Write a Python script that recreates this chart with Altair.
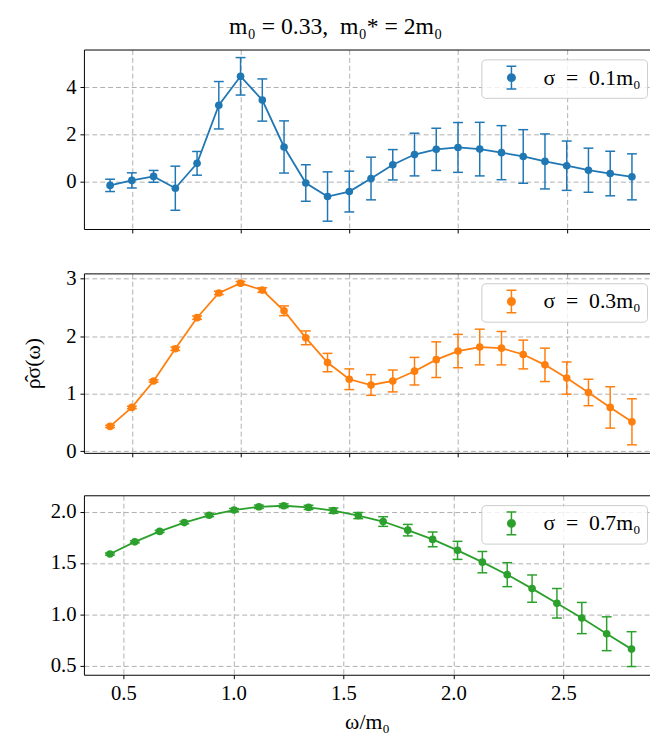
import altair as alt
import pandas as pd

# ---- data ----
x_a = [0.4, 0.5, 0.6, 0.7, 0.8, 0.9, 1.0, 1.1, 1.2, 1.3, 1.4, 1.5, 1.6,
       1.7, 1.8, 1.9, 2.0, 2.1, 2.2, 2.3, 2.4, 2.5, 2.6, 2.7, 2.8]
x_c = [0.439, 0.552, 0.665, 0.777, 0.890, 1.003, 1.116, 1.229, 1.342, 1.455, 1.568,
       1.681, 1.793, 1.906, 2.019, 2.132, 2.245, 2.358, 2.471, 2.584, 2.697, 2.810]

v1 = [-0.14, 0.07, 0.24, -0.26, 0.79, 3.24, 4.46, 3.46, 1.48, -0.04, -0.61, -0.40, 0.15,
      0.73, 1.16, 1.38, 1.46, 1.39, 1.24, 1.08, 0.87, 0.69, 0.50, 0.36, 0.22]
e1 = [0.26, 0.32, 0.25, 0.93, 0.50, 1.00, 0.79, 0.89, 1.10, 0.77, 1.04, 0.86, 0.90,
      0.64, 0.90, 0.89, 1.05, 1.13, 1.14, 1.13, 1.16, 1.04, 0.93, 0.94, 0.97]

v2 = [0.43, 0.76, 1.22, 1.78, 2.32, 2.75, 2.92, 2.80, 2.44, 1.97, 1.54, 1.25, 1.15,
      1.22, 1.39, 1.59, 1.74, 1.81, 1.79, 1.68, 1.50, 1.27, 1.02, 0.76, 0.51]
e2 = [0.02, 0.02, 0.02, 0.03, 0.03, 0.03, 0.03, 0.04, 0.085, 0.12, 0.16, 0.18, 0.18,
      0.19, 0.24, 0.31, 0.29, 0.31, 0.29, 0.25, 0.29, 0.28, 0.23, 0.36, 0.40]

v3 = [1.587, 1.706, 1.808, 1.894, 1.965, 2.016, 2.048, 2.058, 2.042, 2.010, 1.962,
      1.904, 1.820, 1.730, 1.623, 1.508, 1.386, 1.250, 1.107, 0.963, 0.810, 0.660]
e3 = [0.010, 0.010, 0.010, 0.012, 0.013, 0.015, 0.016, 0.018, 0.020, 0.025, 0.030,
      0.047, 0.056, 0.072, 0.088, 0.104, 0.117, 0.133, 0.144, 0.152, 0.165, 0.170]

labels = ["σ\u00a0\u00a0=\u00a0\u00a00.1m₀", "σ\u00a0\u00a0=\u00a0\u00a00.3m₀",
          "σ\u00a0\u00a0=\u00a0\u00a00.7m₀"]
colors = ["#1f77b4", "#ff7f0e", "#2ca02c"]
x_ticks = [0.5, 1.0, 1.5, 2.0, 2.5]

FONT = "Liberation Serif"
W, H = 574, 182

# errorbar-like legend symbol (caps, vertical bar, dot)
SYMBOL = ("M-0.43,-1H0.43M0,-1V1M-0.43,1H0.43"
          "M-0.33,0A0.33,0.33,0,1,0,0.33,0A0.33,0.33,0,1,0,-0.33,0Z")


def panel(x, v, e, color, label, xdom, ydom, yvals, yfmt, bottom, ytitle):
    df = pd.DataFrame({"x": x, "v": v, "e": e, "s": [label] * len(x)})
    base = alt.Chart(df).transform_calculate(
        lo="datum.v - datum.e", hi="datum.v + datum.e"
    )
    xsc = alt.Scale(domain=xdom, nice=False, zero=False)
    if bottom:
        xaxis = alt.Axis(values=x_ticks, format=".1f", title="ω/m₀", titlePadding=8,
                         grid=True)
    else:
        xaxis = alt.Axis(values=x_ticks, format=".1f", labels=False, title=None,
                         grid=True)
    top_axis = alt.Axis(orient="top", labels=False, ticks=False, grid=False,
                        title=None, domain=True)
    X_main = alt.X("x:Q", scale=xsc, axis=xaxis)
    X_top = alt.X("x:Q", scale=xsc, axis=top_axis)
    X_none = alt.X("x:Q", scale=xsc, axis=None)
    if ytitle:
        yaxis = alt.Axis(values=yvals, format=yfmt, title=ytitle, titlePadding=22)
    else:
        yaxis = alt.Axis(values=yvals, format=yfmt, title=None)
    ysc = alt.Scale(domain=ydom, nice=False, zero=False)

    rule = base.mark_rule(color=color, strokeWidth=1.5).encode(
        x=X_main, y=alt.Y("lo:Q", scale=ysc, axis=yaxis), y2="hi:Q")
    cap_lo = base.mark_tick(color=color, orient="horizontal", size=10, thickness=1.5,
                            opacity=1).encode(x=X_none, y=alt.Y("lo:Q", scale=ysc, axis=yaxis))
    cap_hi = base.mark_tick(color=color, orient="horizontal", size=10, thickness=1.5,
                            opacity=1).encode(x=X_none, y=alt.Y("hi:Q", scale=ysc, axis=yaxis))
    line = base.mark_line(color=color, strokeWidth=1.8).encode(
        x=X_none, y=alt.Y("v:Q", scale=ysc, axis=yaxis))
    pts = base.mark_point(filled=True, size=60, opacity=1).encode(
        x=X_top, y=alt.Y("v:Q", scale=ysc, axis=yaxis),
        color=alt.Color("s:N", scale=alt.Scale(domain=[label], range=[color]),
                        legend=alt.Legend(
                            title=None, orient="none", legendX=403, legendY=10,
                            fillColor="rgba(255,255,255,0.8)", strokeColor="#cccccc",
                            cornerRadius=4, padding=6,
                            symbolType=SYMBOL, symbolSize=529, symbolStrokeWidth=1.5,
                            symbolStrokeColor=color, symbolFillColor=color,
                            symbolOffset=12, labelOffset=20,
                            labelFont=FONT, labelFontSize=22, labelColor="black")))
    return alt.layer(rule, cap_lo, cap_hi, line, pts).resolve_axis(
        x="independent").properties(width=W, height=H)


p1 = panel(x_a, v1, e1, colors[0], labels[0], [0.2797, 2.883], [-1.98, 5.59],
           [0, 2, 4], "d", False, "")
p2 = panel(x_a, v2, e2, colors[1], labels[1], [0.2797, 2.883], [-0.03, 3.09],
           [0, 1, 2, 3], "d", False, "ρ̂σ(ω)")
p3 = panel(x_c, v3, e3, colors[2], labels[2], [0.3208, 2.894], [0.41, 2.16],
           [0.5, 1.0, 1.5, 2.0], ".1f", True, "")

chart = alt.vconcat(p1, p2, p3, spacing=34).resolve_scale(
    color="independent", x="independent", y="independent"
).resolve_legend(color="independent").properties(
    background="white",
    padding={"left": 13, "top": 2, "right": 0, "bottom": 0},
    title=alt.TitleParams("m₀ = 0.33,\u00a0\u00a0m₀* = 2m₀", font=FONT, fontSize=24,
                          fontWeight="normal", anchor="middle", color="black",
                          offset=11)
).configure_view(stroke=None).configure_axis(
    domainColor="black", tickColor="black", tickSize=4, labelFont=FONT,
    labelFontSize=21, labelColor="black", titleFont=FONT, titleFontSize=22,
    titleFontWeight="normal", titleColor="black", gridColor="#b0b0b0",
    gridDash=[5, 3], gridWidth=1, labelPadding=4,
)

chart.save("out.html", embed_options={"renderer": "svg", "actions": False})
